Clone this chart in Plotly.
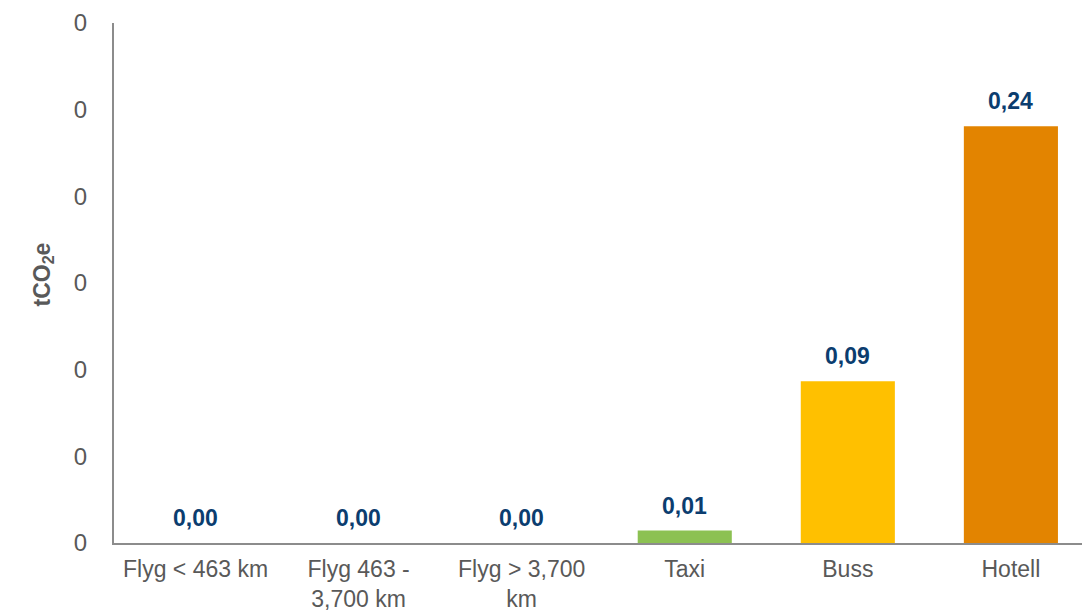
import plotly.graph_objects as go

# Emissions per travel category (tCO2e)
categories = ["Flyg < 463 km", "Flyg 463 -<br>3,700 km", "Flyg > 3,700<br>km", "Taxi", "Buss", "Hotell"]
emissions = [0.0, 0.0, 0.0, 0.0072, 0.0933, 0.2405]
bar_colors = ["#8CC152", "#8CC152", "#8CC152", "#8CC152", "#FFC000", "#E38400"]
y_ticks = [0.0, 0.05, 0.10, 0.15, 0.20, 0.25, 0.30]

FONT = "Liberation Sans, Arial, sans-serif"
LABEL_COLOR = "#0B3D6F"
AXIS_TEXT = "#595959"

fig = go.Figure(
    go.Bar(
        x=categories,
        y=emissions,
        marker=dict(color=bar_colors, line=dict(width=0)),
        width=0.577,
        hoverinfo="skip",
    )
)

# Value labels above each bar
for cat, val in zip(categories, emissions):
    fig.add_annotation(
        x=cat, y=val, xref="x", yref="y",
        text=f"<b>{val:.2f}</b>".replace(".", ","),
        showarrow=False, yanchor="bottom", yshift=10,
        font=dict(family=FONT, size=23, color=LABEL_COLOR),
    )

# Axis title
fig.add_annotation(
    x=0, y=0.5, xref="paper", yref="paper", xshift=-88, yshift=8,
    text="<b>tCO<sub>2</sub>e</b>", textangle=-90, showarrow=False,
    font=dict(family=FONT, size=23, color=AXIS_TEXT),
)

fig.update_layout(
    width=1082, height=611,
    margin=dict(l=114, r=0, t=23, b=68),
    paper_bgcolor="white", plot_bgcolor="white",
    showlegend=False,
    separators=", ",
    font=dict(family=FONT, size=24, color=AXIS_TEXT),
    xaxis=dict(
        range=[-0.5, 5.436], automargin=False,
        showline=True, linecolor="#8C8C8C", linewidth=2,
        showgrid=False, ticks="", ticklabelstandoff=4,
        tickfont=dict(family=FONT, size=23, color=AXIS_TEXT),
    ),
    yaxis=dict(
        range=[0, 0.30], automargin=False,
        tickvals=y_ticks, tickformat=".0f",
        showline=True, linecolor="#8C8C8C", linewidth=2,
        showgrid=False, zeroline=False, ticks="", ticklabelstandoff=20,
        tickfont=dict(family=FONT, size=24, color=AXIS_TEXT),
    ),
)

fig.write_html("out.html")
